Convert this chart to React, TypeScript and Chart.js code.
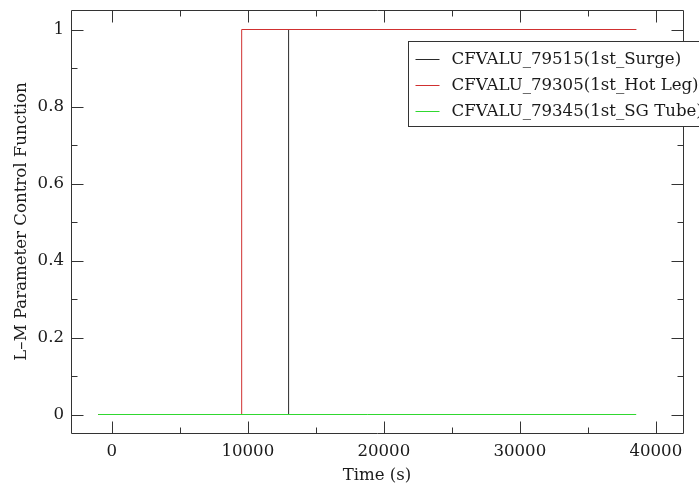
import React, { useEffect, useRef } from 'react';
import { Chart, registerables } from 'chart.js';

Chart.register(...registerables);

// ---- data ----
const surgeTime = [-1000, 13000, 13000, 38560];
const surgeValue = [0, 0, 1, 1];
const hotLegTime = [-1000, 9550, 9550, 38560];
const hotLegValue = [0, 0, 1, 1];
const sgTubeTime = [-1000, 38560];
const sgTubeValue = [0, 0];

const seriesLabels = [
  'CFVALU_79515(1st_Surge)',
  'CFVALU_79305(1st_Hot Leg)',
  'CFVALU_79345(1st_SG Tube)',
];
const seriesColors = ['#2a2a2a', '#d03030', '#30d830'];

const xMajorTicks = [0, 10000, 20000, 30000, 40000];
const xMinorTicks = [5000, 15000, 25000, 35000];
const yMajorTicks = [0, 0.2, 0.4, 0.6, 0.8, 1];
const yMinorTicks = [0.1, 0.3, 0.5, 0.7, 0.9];
const xRange = [-3000, 42000];
const yRange = [-0.04805, 1.05065];

const FONT = "'DejaVu Serif', serif";
const FSIZE = 16.6;
const TEXT = '#1a1a1a';
const FRAME = '#333333';

function pts(xs: number[], ys: number[]) {
  return xs.map((x, i) => ({ x, y: ys[i] }));
}

const frameTicksPlugin = {
  id: 'frameTicks',
  afterDatasetsDraw(chart: any) {
    const { ctx, chartArea: a, scales } = chart;
    const x = scales.x;
    const y = scales.y;
    const r = (v: number) => Math.round(v) + 0.5;
    const L = r(a.left), R = r(a.right), T = r(a.top), B = r(a.bottom);
    ctx.save();
    ctx.strokeStyle = FRAME;
    ctx.lineWidth = 1;
    ctx.beginPath();
    ctx.rect(L, T, R - L, B - T);
    const xt = (v: number, len: number) => {
      const p = r(x.getPixelForValue(v));
      ctx.moveTo(p, B); ctx.lineTo(p, B - len);
      ctx.moveTo(p, T); ctx.lineTo(p, T + len);
    };
    const yt = (v: number, len: number) => {
      const p = r(y.getPixelForValue(v));
      ctx.moveTo(L, p); ctx.lineTo(L + len, p);
      ctx.moveTo(R, p); ctx.lineTo(R - len, p);
    };
    xMajorTicks.forEach((v) => xt(v, 12));
    xMinorTicks.forEach((v) => xt(v, 6));
    yMajorTicks.forEach((v) => yt(v, 12));
    yMinorTicks.forEach((v) => yt(v, 6));
    ctx.stroke();
    ctx.restore();
  },
};

const boxLegendPlugin = {
  id: 'boxLegend',
  afterDraw(chart: any) {
    const { ctx, chartArea: a } = chart;
    const bx = Math.round(a.left + 337) + 0.5;
    const by = Math.round(a.top + 31) + 0.5;
    const bw = 320;
    const bh = 85;
    ctx.save();
    ctx.fillStyle = '#ffffff';
    ctx.fillRect(bx, by, bw, bh);
    ctx.strokeStyle = FRAME;
    ctx.lineWidth = 1;
    ctx.strokeRect(bx, by, bw, bh);
    ctx.font = `${FSIZE}px ${FONT}`;
    ctx.textBaseline = 'middle';
    ctx.textAlign = 'left';
    chart.data.datasets.forEach((ds: any, i: number) => {
      const cy = Math.round(by + 17 + i * 26) + 0.5;
      ctx.strokeStyle = ds.borderColor;
      ctx.beginPath();
      ctx.moveTo(bx + 7, cy);
      ctx.lineTo(bx + 31, cy);
      ctx.stroke();
      ctx.fillStyle = TEXT;
      ctx.fillText(ds.label, bx + 43, cy);
    });
    ctx.restore();
  },
};

export default function App() {
  const ref = useRef<HTMLCanvasElement | null>(null);

  useEffect(() => {
    if (!ref.current) return;
    const series = [
      pts(surgeTime, surgeValue),
      pts(hotLegTime, hotLegValue),
      pts(sgTubeTime, sgTubeValue),
    ];
    const chart = new Chart(ref.current, {
      type: 'scatter',
      data: {
        datasets: series.map((d, i) => ({
          label: seriesLabels[i],
          data: d,
          showLine: true,
          borderColor: seriesColors[i],
          backgroundColor: seriesColors[i],
          borderWidth: 1,
          pointRadius: 0,
          pointHoverRadius: 0,
          tension: 0,
          order: 3 - i,
        })),
      },
      options: {
        animation: false,
        responsive: false,
        maintainAspectRatio: false,
        layout: { padding: { top: 10, right: 16, left: 0, bottom: 0 } },
        plugins: {
          legend: { display: false },
          tooltip: { enabled: false },
        },
        scales: {
          x: {
            type: 'linear',
            min: xRange[0],
            max: xRange[1],
            afterBuildTicks: (s: any) => {
              s.ticks = xMajorTicks.map((v) => ({ value: v }));
            },
            afterFit: (s: any) => {
              s.height = 53;
              s.paddingLeft = 0;
              s.paddingRight = 0;
            },
            grid: { display: false, drawTicks: false },
            border: { display: false },
            ticks: {
              callback: (v: any) => String(v),
              color: TEXT,
              font: { family: FONT, size: FSIZE },
              padding: 9,
              maxRotation: 0,
              autoSkip: false,
            },
            title: {
              display: true,
              text: 'Time (s)',
              color: TEXT,
              font: { family: FONT, size: FSIZE },
              padding: { top: 0, bottom: 0 },
            },
          },
          y: {
            type: 'linear',
            min: yRange[0],
            max: yRange[1],
            afterBuildTicks: (s: any) => {
              s.ticks = yMajorTicks.map((v) => ({ value: v }));
            },
            afterFit: (s: any) => {
              s.width = 71;
              s.paddingTop = 0;
              s.paddingBottom = 0;
            },
            grid: { display: false, drawTicks: false },
            border: { display: false },
            ticks: {
              callback: (v: any) => String(v),
              color: TEXT,
              font: { family: FONT, size: FSIZE },
              padding: 7,
              autoSkip: false,
            },
            title: {
              display: true,
              text: 'L–M Parameter Control Function',
              color: TEXT,
              font: { family: FONT, size: FSIZE },
              padding: { top: 12, bottom: 0 },
            },
          },
        },
      },
      plugins: [frameTicksPlugin, boxLegendPlugin],
    } as any);
    return () => chart.destroy();
  }, []);

  return (
    <div style={{ position: 'absolute', left: 0, top: 0, width: 699, height: 486, background: '#fff' }}>
      <canvas ref={ref} width={699} height={486} style={{ display: 'block', width: 699, height: 486 }} />
    </div>
  );
}
